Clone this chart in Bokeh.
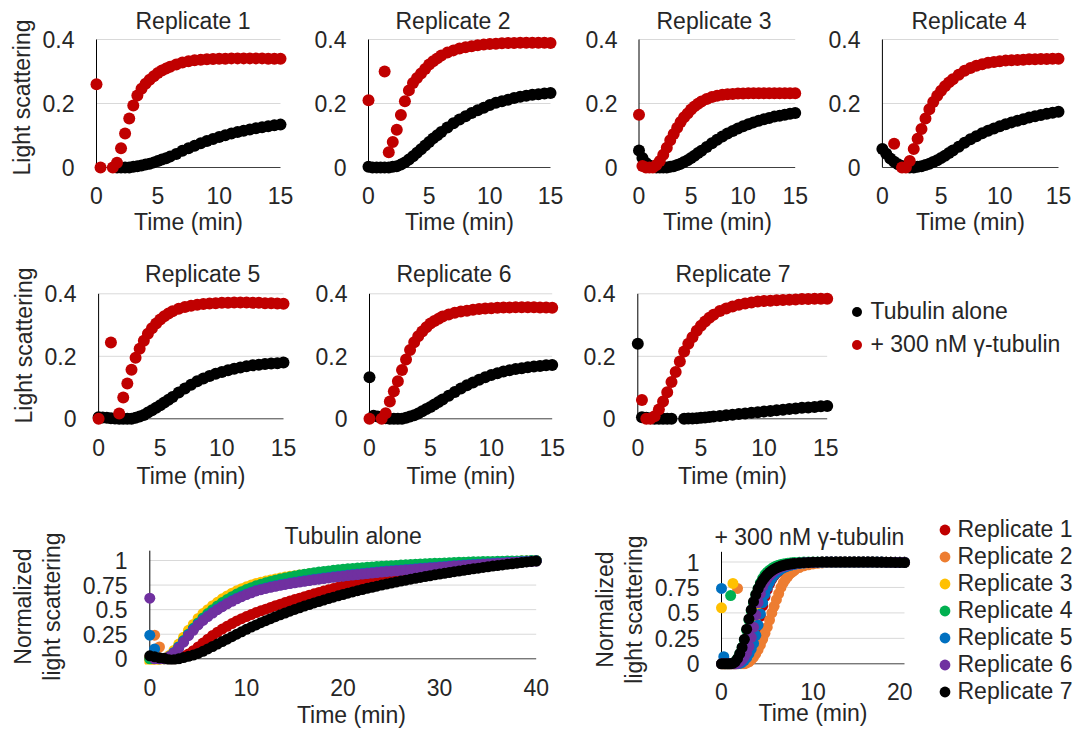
from bokeh.plotting import figure
from bokeh.models import Legend, LegendItem, FixedTicker, NumeralTickFormatter, Title
from bokeh.core.properties import value
from bokeh.layouts import row, column
from bokeh.embed import file_html
from bokeh.resources import INLINE

nan = float("nan")

# ---------------- data: raw light scattering (time in min) ----------------
T_RAW = [0, 0.33, 0.67, 1, 1.33, 1.67, 2, 2.33, 2.67, 3, 3.33, 3.67, 4, 4.33, 4.67, 5, 5.33, 5.67, 6,
         6.5, 7, 7.5, 8, 8.5, 9, 9.5, 10, 10.5, 11, 11.5, 12, 12.5, 13, 13.5, 14, 14.5, 15]

REP1_ALONE = [nan, nan, nan, nan, nan, 0.0, 0.0, 0.0, 0.0, 0.002, 0.004, 0.006, 0.009, 0.012, 0.016, 0.02, 0.025, 0.029, 0.034,
              0.042, 0.052, 0.06, 0.068, 0.076, 0.083, 0.089, 0.095, 0.101, 0.106, 0.111, 0.115, 0.119, 0.123, 0.126, 0.129, 0.132, 0.134]
REP1_GAMMA = [0.26, 0.0, nan, nan, 0.0, 0.015, 0.06, 0.106, 0.153, 0.194, 0.225, 0.246, 0.262, 0.274, 0.285, 0.295, 0.303, 0.309, 0.315,
              0.322, 0.328, 0.332, 0.335, 0.337, 0.338, 0.339, 0.34, 0.34, 0.341, 0.341, 0.341, 0.341, 0.341, 0.341, 0.34, 0.34, 0.34]
REP2_ALONE = [0.002, 0.0, 0.0, 0.0, 0.0, 0.0, 0.002, 0.004, 0.009, 0.016, 0.025, 0.035, 0.046, 0.057, 0.069, 0.08, 0.091, 0.101, 0.111,
              0.125, 0.138, 0.15, 0.16, 0.17, 0.179, 0.187, 0.195, 0.202, 0.207, 0.212, 0.217, 0.221, 0.224, 0.227, 0.229, 0.231, 0.233]
REP2_GAMMA = [0.21, nan, nan, nan, 0.30, 0.048, 0.08, 0.118, 0.164, 0.207, 0.241, 0.264, 0.28, 0.294, 0.308, 0.322, 0.332, 0.341, 0.35,
              0.359, 0.366, 0.372, 0.376, 0.379, 0.382, 0.384, 0.386, 0.387, 0.388, 0.389, 0.389, 0.39, 0.39, 0.39, 0.39, 0.39, 0.389]
REP3_ALONE = [0.053, 0.03, 0.014, 0.006, 0.002, 0.0, 0.0, 0.0, 0.0, 0.002, 0.004, 0.008, 0.012, 0.017, 0.023, 0.03, 0.037, 0.045, 0.052,
              0.064, 0.076, 0.087, 0.097, 0.106, 0.114, 0.122, 0.129, 0.135, 0.141, 0.146, 0.151, 0.155, 0.159, 0.162, 0.165, 0.168, 0.17]
REP3_GAMMA = [0.165, 0.005, 0.0, 0.0, 0.0, 0.008, 0.02, 0.04, 0.062, 0.085, 0.105, 0.124, 0.142, 0.157, 0.169, 0.181, 0.191, 0.199, 0.206,
              0.214, 0.22, 0.224, 0.227, 0.229, 0.23, 0.231, 0.231, 0.232, 0.232, 0.232, 0.232, 0.232, 0.232, 0.232, 0.232, 0.232, 0.232]
REP4_ALONE = [0.058, 0.043, 0.028, 0.018, 0.01, 0.005, 0.002, 0.0, 0.0, 0.002, 0.004, 0.008, 0.012, 0.017, 0.023, 0.03, 0.037, 0.045, 0.053,
              0.065, 0.077, 0.088, 0.098, 0.107, 0.115, 0.122, 0.129, 0.135, 0.141, 0.146, 0.151, 0.156, 0.16, 0.164, 0.168, 0.171, 0.174]
REP4_GAMMA = [nan, nan, nan, 0.074, nan, 0.0, 0.0, 0.02, 0.058, 0.09, 0.12, 0.153, 0.182, 0.205, 0.224, 0.24, 0.254, 0.266, 0.276,
              0.29, 0.302, 0.311, 0.318, 0.323, 0.327, 0.33, 0.332, 0.334, 0.335, 0.336, 0.337, 0.338, 0.338, 0.339, 0.339, 0.34, 0.34]
REP5_ALONE = [0.005, 0.004, 0.003, 0.002, 0.001, 0.0, 0.0, 0.0, 0.0, 0.003, 0.007, 0.012, 0.02, 0.027, 0.035, 0.043, 0.052, 0.061, 0.07,
              0.084, 0.097, 0.109, 0.12, 0.129, 0.137, 0.144, 0.15, 0.155, 0.16, 0.164, 0.168, 0.171, 0.173, 0.175, 0.177, 0.178, 0.18]
REP5_GAMMA = [0.0, nan, nan, 0.244, nan, 0.017, 0.068, 0.113, 0.157, 0.195, 0.224, 0.25, 0.272, 0.29, 0.305, 0.318, 0.328, 0.337, 0.344,
              0.352, 0.358, 0.362, 0.365, 0.367, 0.369, 0.37, 0.371, 0.371, 0.372, 0.372, 0.372, 0.371, 0.371, 0.37, 0.37, 0.369, 0.368]
REP6_ALONE = [0.133, 0.01, 0.007, 0.005, 0.002, 0.0, 0.0, 0.0, 0.0, 0.003, 0.007, 0.011, 0.017, 0.024, 0.031, 0.038, 0.046, 0.054, 0.062,
              0.074, 0.086, 0.097, 0.107, 0.116, 0.125, 0.133, 0.14, 0.146, 0.151, 0.155, 0.159, 0.162, 0.165, 0.167, 0.169, 0.171, 0.172]
REP6_GAMMA = [0.0, nan, nan, 0.0, 0.018, 0.055, 0.088, 0.12, 0.156, 0.19, 0.22, 0.245, 0.264, 0.279, 0.293, 0.305, 0.313, 0.32, 0.327,
              0.334, 0.339, 0.343, 0.346, 0.349, 0.351, 0.353, 0.354, 0.355, 0.356, 0.356, 0.357, 0.357, 0.357, 0.357, 0.356, 0.356, 0.355]
REP7_ALONE = [0.24, 0.005, 0.003, 0.002, 0.0, 0.0, 0.0, 0.0, 0.0, nan, nan, 0.0, 0.001, 0.001, 0.002, 0.003, 0.004, 0.006, 0.007,
              0.009, 0.011, 0.013, 0.015, 0.017, 0.019, 0.021, 0.023, 0.025, 0.027, 0.029, 0.031, 0.033, 0.035, 0.036, 0.038, 0.04, 0.041]
REP7_GAMMA = [nan, 0.06, 0.0, 0.0, 0.008, 0.03, 0.055, 0.085, 0.118, 0.15, 0.183, 0.215, 0.24, 0.261, 0.282, 0.298, 0.311, 0.323, 0.333,
              0.345, 0.353, 0.359, 0.365, 0.369, 0.372, 0.375, 0.377, 0.378, 0.379, 0.38, 0.381, 0.382, 0.383, 0.383, 0.384, 0.384, 0.384]

# ---------------- data: normalized, tubulin alone ----------------
T40 = [0, 0.5, 1, 1.5, 2, 2.5, 3, 3.5, 4, 4.5,
       5, 5.5, 6, 6.5, 7, 7.5, 8, 8.5, 9, 9.5,
       10, 10.5, 11, 11.5, 12, 12.5, 13, 13.5, 14, 14.5,
       15, 15.5, 16, 16.5, 17, 17.5, 18, 18.5, 19, 19.5,
       20, 20.5, 21, 21.5, 22, 22.5, 23, 23.5, 24, 24.5,
       25, 25.5, 26, 26.5, 27, 27.5, 28, 28.5, 29, 29.5,
       30, 30.5, 31, 31.5, 32, 32.5, 33, 33.5, 34, 34.5,
       35, 35.5, 36, 36.5, 37, 37.5, 38, 38.5, 39, 39.5,
       40]

ALONE_NORM_1 = [0.0, 0.0, 0.0, 0.0, 0.0, 0.0, 0.01, 0.025, 0.05, 0.083,
                0.12, 0.16, 0.2, 0.237, 0.27, 0.302, 0.33, 0.358, 0.385, 0.408,
                0.43, 0.45, 0.47, 0.488, 0.505, 0.523, 0.54, 0.556, 0.572, 0.587,
                0.602, 0.617, 0.632, 0.647, 0.661, 0.675, 0.689, 0.702, 0.715, 0.728,
                0.74, 0.752, 0.763, 0.774, 0.785, 0.795, 0.805, 0.815, 0.824, 0.833,
                0.842, 0.85, 0.858, 0.866, 0.873, 0.88, 0.887, 0.894, 0.9, 0.906,
                0.912, 0.918, 0.923, 0.929, 0.934, 0.939, 0.944, 0.949, 0.953, 0.958,
                0.962, 0.966, 0.97, 0.974, 0.978, 0.982, 0.985, 0.988, 0.992, 0.995,
                0.998]
ALONE_NORM_2 = [0.02, 0.24, 0.12, 0.0, 0.03, 0.07, 0.12, 0.18, 0.245, 0.3,
                0.355, 0.4, 0.44, 0.476, 0.51, 0.54, 0.569, 0.595, 0.62, 0.642,
                0.663, 0.682, 0.699, 0.713, 0.726, 0.737, 0.748, 0.758, 0.767, 0.775,
                0.783, 0.791, 0.799, 0.806, 0.813, 0.82, 0.827, 0.833, 0.839, 0.845,
                0.851, 0.857, 0.862, 0.867, 0.872, 0.877, 0.882, 0.887, 0.892, 0.897,
                0.901, 0.905, 0.909, 0.913, 0.917, 0.921, 0.925, 0.929, 0.933, 0.937,
                0.941, 0.945, 0.949, 0.952, 0.955, 0.958, 0.961, 0.964, 0.967, 0.97,
                0.973, 0.976, 0.979, 0.982, 0.985, 0.988, 0.991, 0.994, 0.996, 0.998,
                1.0]
ALONE_NORM_3 = [-0.03, -0.02, -0.01, 0.0, 0.03, 0.085, 0.15, 0.22, 0.29, 0.35,
                0.41, 0.46, 0.5, 0.54, 0.575, 0.61, 0.64, 0.667, 0.692, 0.713,
                0.732, 0.75, 0.766, 0.779, 0.791, 0.802, 0.812, 0.822, 0.831, 0.839,
                0.846, 0.852, 0.858, 0.864, 0.869, 0.874, 0.879, 0.884, 0.888, 0.892,
                0.896, 0.9, 0.904, 0.908, 0.911, 0.914, 0.917, 0.92, 0.923, 0.926,
                0.929, 0.932, 0.935, 0.938, 0.941, 0.944, 0.947, 0.95, 0.953, 0.956,
                0.959, 0.962, 0.964, 0.966, 0.968, 0.97, 0.972, 0.974, 0.976, 0.978,
                0.98, 0.982, 0.984, 0.986, 0.988, 0.99, 0.992, 0.994, 0.996, 0.998,
                1.0]
ALONE_NORM_4 = [0.0, 0.0, 0.0, 0.0, 0.02, 0.06, 0.12, 0.185, 0.25, 0.31,
                0.365, 0.415, 0.46, 0.5, 0.538, 0.572, 0.603, 0.632, 0.658, 0.682,
                0.704, 0.724, 0.742, 0.758, 0.773, 0.787, 0.8, 0.812, 0.823, 0.833,
                0.843, 0.852, 0.86, 0.868, 0.875, 0.882, 0.888, 0.894, 0.9, 0.905,
                0.91, 0.915, 0.919, 0.923, 0.927, 0.931, 0.935, 0.938, 0.941, 0.944,
                0.947, 0.95, 0.953, 0.956, 0.959, 0.962, 0.965, 0.967, 0.969, 0.971,
                0.973, 0.975, 0.977, 0.979, 0.981, 0.983, 0.985, 0.987, 0.988, 0.989,
                0.99, 0.991, 0.992, 0.993, 0.994, 0.995, 0.996, 0.997, 0.998, 0.999,
                1.0]
ALONE_NORM_5 = [0.24, 0.1, 0.0, 0.0, 0.02, 0.065, 0.12, 0.18, 0.245, 0.3,
                0.352, 0.397, 0.437, 0.473, 0.507, 0.537, 0.566, 0.592, 0.616, 0.638,
                0.658, 0.677, 0.694, 0.708, 0.721, 0.732, 0.743, 0.753, 0.762, 0.77,
                0.778, 0.786, 0.794, 0.801, 0.808, 0.815, 0.822, 0.828, 0.834, 0.84,
                0.846, 0.852, 0.857, 0.862, 0.867, 0.872, 0.877, 0.882, 0.887, 0.892,
                0.896, 0.9, 0.904, 0.908, 0.912, 0.916, 0.92, 0.924, 0.928, 0.932,
                0.936, 0.94, 0.944, 0.947, 0.95, 0.953, 0.956, 0.959, 0.962, 0.965,
                0.968, 0.971, 0.974, 0.977, 0.98, 0.983, 0.986, 0.989, 0.992, 0.995,
                0.998]
ALONE_NORM_6 = [0.617, 0.0, 0.0, 0.0, 0.02, 0.06, 0.11, 0.17, 0.235, 0.29,
                0.345, 0.39, 0.43, 0.465, 0.5, 0.53, 0.56, 0.585, 0.61, 0.632,
                0.653, 0.672, 0.69, 0.703, 0.716, 0.727, 0.738, 0.748, 0.757, 0.765,
                0.773, 0.781, 0.789, 0.796, 0.803, 0.81, 0.817, 0.823, 0.829, 0.835,
                0.841, 0.847, 0.852, 0.857, 0.862, 0.867, 0.872, 0.877, 0.882, 0.887,
                0.891, 0.895, 0.899, 0.903, 0.907, 0.911, 0.915, 0.919, 0.923, 0.927,
                0.931, 0.935, 0.939, 0.943, 0.946, 0.949, 0.952, 0.955, 0.958, 0.961,
                0.964, 0.967, 0.97, 0.973, 0.976, 0.979, 0.982, 0.985, 0.988, 0.991,
                0.994]
ALONE_NORM_7 = [0.03, 0.02, 0.01, 0.005, -0.01, -0.01, 0.0, 0.012, 0.025, 0.038,
                0.055, 0.076, 0.1, 0.125, 0.15, 0.175, 0.2, 0.225, 0.25, 0.275,
                0.3, 0.323, 0.345, 0.367, 0.388, 0.408, 0.428, 0.447, 0.466, 0.484,
                0.502, 0.519, 0.536, 0.552, 0.568, 0.583, 0.598, 0.613, 0.627, 0.641,
                0.654, 0.667, 0.68, 0.693, 0.705, 0.717, 0.728, 0.739, 0.75, 0.761,
                0.771, 0.781, 0.791, 0.8, 0.81, 0.819, 0.828, 0.837, 0.845, 0.854,
                0.862, 0.87, 0.878, 0.886, 0.893, 0.9, 0.908, 0.915, 0.922, 0.929,
                0.936, 0.943, 0.949, 0.955, 0.961, 0.967, 0.973, 0.979, 0.985, 0.99,
                0.995]

# ---------------- data: normalized, + 300 nM gamma-tubulin ----------------
T20 = [0, 0.25, 0.5, 0.75, 1, 1.25, 1.5, 1.75, 2, 2.25, 2.5, 2.75, 3, 3.25, 3.5, 3.75,
       4, 4.25, 4.5, 4.75, 5, 5.25, 5.5, 5.75, 6, 6.25, 6.5, 6.75, 7, 7.25, 7.5, 7.75, 8,
       8.5, 9, 9.5, 10, 10.5, 11, 11.5, 12, 12.5, 13, 13.5, 14, 14.5, 15, 15.5,
       16, 16.5, 17, 17.5, 18, 18.5, 19, 19.5, 20]

GAMMA_NORM_1 = [0.0, 0.0, 0.0, 0.0, 0.0, 0.0, 0.0, 0.0, 0.003, 0.012, 0.03, 0.055, 0.09, 0.135, 0.19, 0.27,
                0.36, 0.465, 0.57, 0.66, 0.73, 0.785, 0.83, 0.863, 0.89, 0.909, 0.925, 0.939, 0.95, 0.958, 0.966, 0.972, 0.977,
                0.985, 0.99, 0.993, 0.995, 0.997, 0.998, 0.999, 1.0, 1.0, 1.0, 1.0, 1.0, 1.0, 1.0, 1.0,
                0.999, 0.999, 0.998, 0.998, 0.997, 0.997, 0.996, 0.996, 0.996]
GAMMA_NORM_2 = [0.0, 0.0, 0.0, 0.0, 0.0, 0.0, 0.0, 0.74, 0.0, 0.0, 0.0, 0.008, 0.02, 0.04, 0.065, 0.1,
                0.14, 0.185, 0.24, 0.3, 0.36, 0.43, 0.5, 0.565, 0.63, 0.69, 0.75, 0.795, 0.83, 0.86, 0.885, 0.903, 0.92,
                0.945, 0.962, 0.973, 0.981, 0.987, 0.991, 0.994, 0.996, 0.998, 0.999, 1.0, 1.0, 1.0, 1.0, 1.0,
                1.0, 1.0, 0.999, 0.999, 0.998, 0.998, 0.998, 0.997, 0.997]
GAMMA_NORM_3 = [0.55, 0.0, 0.0, 0.0, 0.0, 0.79, 0.0, 0.003, 0.01, 0.025, 0.05, 0.09, 0.14, 0.21, 0.3, 0.4,
                0.5, 0.6, 0.69, 0.75, 0.8, 0.84, 0.87, 0.895, 0.915, 0.93, 0.943, 0.953, 0.962, 0.968, 0.974, 0.978, 0.982,
                0.988, 0.992, 0.995, 0.997, 0.998, 0.999, 1.0, 1.0, 1.0, 1.0, 1.0, 1.0, 1.0, 1.0, 1.0,
                1.0, 1.0, 0.999, 0.999, 0.998, 0.998, 0.997, 0.997, 0.997]
GAMMA_NORM_4 = [0.0, 0.0, 0.0, 0.0, 0.67, 0.005, 0.02, 0.05, 0.1, 0.16, 0.235, 0.33, 0.43, 0.52, 0.6, 0.68,
                0.74, 0.795, 0.84, 0.875, 0.9, 0.92, 0.935, 0.95, 0.96, 0.968, 0.975, 0.98, 0.984, 0.987, 0.99, 0.992, 0.994,
                0.997, 0.999, 1.0, 1.0, 1.0, 1.0, 1.0, 1.0, 1.0, 1.0, 1.0, 1.0, 1.0, 1.0, 1.0,
                1.0, 1.0, 0.999, 0.999, 0.998, 0.998, 0.998, 0.997, 0.997]
GAMMA_NORM_5 = [0.74, 0.07, 0.0, 0.0, 0.0, 0.0, 0.0, 0.0, 0.005, 0.015, 0.035, 0.06, 0.1, 0.145, 0.2, 0.28,
                0.38, 0.49, 0.6, 0.685, 0.75, 0.8, 0.84, 0.87, 0.895, 0.914, 0.93, 0.943, 0.953, 0.961, 0.968, 0.974, 0.978,
                0.985, 0.99, 0.993, 0.995, 0.997, 0.998, 0.999, 1.0, 1.0, 1.0, 1.0, 1.0, 1.0, 1.0, 1.0,
                1.0, 1.0, 0.999, 0.999, 0.998, 0.998, 0.997, 0.997, 0.997]
GAMMA_NORM_6 = [0.0, 0.0, 0.0, 0.0, 0.0, 0.0, 0.0, 0.005, 0.02, 0.04, 0.07, 0.11, 0.17, 0.26, 0.36, 0.48,
                0.6, 0.69, 0.76, 0.805, 0.84, 0.868, 0.89, 0.91, 0.925, 0.939, 0.95, 0.958, 0.965, 0.971, 0.976, 0.98, 0.984,
                0.989, 0.992, 0.995, 0.997, 0.998, 0.999, 1.0, 1.0, 1.0, 1.0, 1.0, 1.0, 1.0, 1.0, 1.0,
                1.0, 1.0, 0.999, 0.999, 0.998, 0.998, 0.997, 0.997, 0.997]
GAMMA_NORM_7 = [0.0, 0.0, 0.0, 0.0, 0.0, 0.005, 0.02, 0.05, 0.1, 0.16, 0.24, 0.34, 0.44, 0.53, 0.61, 0.68,
                0.735, 0.782, 0.82, 0.85, 0.875, 0.897, 0.915, 0.93, 0.942, 0.952, 0.96, 0.966, 0.972, 0.976, 0.98, 0.983, 0.986,
                0.99, 0.993, 0.995, 0.997, 0.998, 0.999, 1.0, 1.0, 1.0, 1.0, 1.0, 1.0, 1.0, 1.0, 1.0,
                0.999, 0.999, 0.998, 0.998, 0.997, 0.997, 0.996, 0.996, 0.995]

X_TICKS_15 = [0, 5, 10, 15]
Y_TICKS_04 = [0, 0.2, 0.4]
X_TICKS_40 = [0, 10, 20, 30, 40]
X_TICKS_20 = [0, 10, 20]
Y_TICKS_1 = [0, 0.25, 0.5, 0.75, 1]

REP_NAMES = ["Replicate 1", "Replicate 2", "Replicate 3", "Replicate 4",
             "Replicate 5", "Replicate 6", "Replicate 7"]
REP_COLORS = ["#C00000", "#ED7D31", "#FFC000", "#00B050", "#0070C0", "#7030A0", "#000000"]
ALONE_LABEL = "Tubulin alone"
GAMMA_LABEL = "+ 300 nM \u03b3-tubulin"
RAW_YLABEL = "Light scattering"
NORM_YLABEL = "Normalized\nlight scattering"
XLABEL = "Time (min)"
RED = "#C00000"
BLACK = "#000000"

for _name, _t, _series in [("raw", T_RAW, [REP1_ALONE, REP1_GAMMA, REP2_ALONE, REP2_GAMMA, REP3_ALONE, REP3_GAMMA,
                                            REP4_ALONE, REP4_GAMMA, REP5_ALONE, REP5_GAMMA, REP6_ALONE, REP6_GAMMA,
                                            REP7_ALONE, REP7_GAMMA]),
                           ("alone", T40, [ALONE_NORM_1, ALONE_NORM_2, ALONE_NORM_3, ALONE_NORM_4,
                                           ALONE_NORM_5, ALONE_NORM_6, ALONE_NORM_7]),
                           ("gamma", T20, [GAMMA_NORM_1, GAMMA_NORM_2, GAMMA_NORM_3, GAMMA_NORM_4,
                                           GAMMA_NORM_5, GAMMA_NORM_6, GAMMA_NORM_7])]:
    for _k, _s in enumerate(_series):
        if len(_s) != len(_t):
            raise ValueError("%s series %d has %d values, expected %d" % (_name, _k, len(_s), len(_t)))

# ---------------- styling ----------------
FONT = "Liberation Sans"
TXT = "#262626"
GRID = "#D9D9D9"
FS = "23px"
LEGEND_ITEM_H = 27   # measured height of one 23px legend row


def no_frame_align(p):
    try:
        p.frame_align = False
    except AttributeError:
        pass


def style_title(t):
    t.text_font = FONT
    t.text_font_size = FS
    t.text_font_style = "normal"
    t.text_color = TXT


def make_panel(box, px, xlim, ylim, pads, xticks, yticks, gridticks, title, title_left,
               title_standoff, xt_standoff, xl_standoff, yt_standoff, fmt="0.[00]",
               xlabel=XLABEL):
    fx0, fy0, fx1, fy1 = box
    dx0, dx1, dyb, dyt = px
    pl, pr, pt, pb = pads
    mbl = int(round(dx0 - pl - fx0))
    mbr = int(round(fx1 - dx1 - pr))
    mbt = int(round(dyt - pt - fy0))
    mbb = int(round(fy1 - dyb - pb))
    W = int(fx1 - fx0)
    H = int(fy1 - fy0)
    fw = W - mbl - mbr
    fh = H - mbt - mbb
    sx = (dx1 - dx0) / (xlim[1] - xlim[0])
    sy = (dyb - dyt) / (ylim[1] - ylim[0])
    x_start = xlim[0] - (dx0 - (fx0 + mbl)) / sx
    x_end = x_start + fw / sx
    y_end = ylim[1] + (dyt - (fy0 + mbt)) / sy
    y_start = y_end - fh / sy
    p = figure(width=W, height=H, x_range=(x_start, x_end), y_range=(y_start, y_end),
               min_border_left=mbl, min_border_right=mbr, min_border_top=mbt,
               min_border_bottom=mbb, output_backend="svg", toolbar_location=None,
               title=title)
    no_frame_align(p)
    p.outline_line_color = None
    p.background_fill_color = "white"
    p.border_fill_color = "white"
    p.xgrid.visible = False
    p.ygrid.visible = False
    p.title.align = "left"
    p.title.offset = title_left - (fx0 + mbl)
    p.title.standoff = title_standoff
    style_title(p.title)
    for ax in (p.xaxis[0], p.yaxis[0]):
        ax.axis_line_color = None
        ax.major_tick_line_color = None
        ax.minor_tick_line_color = None
        ax.major_tick_in = 0
        ax.major_tick_out = 0
        ax.major_label_text_font = FONT
        ax.major_label_text_font_size = FS
        ax.major_label_text_color = TXT
        ax.axis_label_text_font = FONT
        ax.axis_label_text_font_size = FS
        ax.axis_label_text_color = TXT
        ax.axis_label_text_font_style = "normal"
    p.xaxis.ticker = FixedTicker(ticks=xticks)
    p.yaxis.ticker = FixedTicker(ticks=yticks)
    p.yaxis.formatter = NumeralTickFormatter(format=fmt)
    if xlabel:
        p.xaxis.axis_label = xlabel
        p.xaxis.axis_label_standoff = xl_standoff
    p.xaxis.major_label_standoff = xt_standoff
    p.yaxis.major_label_standoff = yt_standoff
    n = len(gridticks)
    p.segment(x0=[xlim[0]] * n, x1=[xlim[1]] * n, y0=gridticks, y1=gridticks,
              line_color=GRID, line_width=1)
    p.segment(x0=[xlim[0]], x1=[xlim[1]], y0=[ylim[0]], y1=[ylim[0]],
              line_color="#404040", line_width=1)
    p.segment(x0=[xlim[0]], x1=[xlim[0]], y0=[ylim[0]], y1=[ylim[1]],
              line_color="#000000", line_width=1)
    geom = dict(mbl=mbl, mbr=mbr, mbt=mbt, mbb=mbb,
                frame_left=fx0 + mbl, frame_right=fx0 + W - mbr,
                frame_top=fy0 + mbt, frame_bottom=fy0 + H - mbb)
    return p, geom


def add_left_title(p, g, text, text_start_y, standoff):
    t = Title(text=text, align="left", offset=g["frame_bottom"] - text_start_y, standoff=standoff)
    style_title(t)
    p.add_layout(t, "left")


def legend_figure(box, borders, entries, glyph_size, glyph_wh, standoff, spacing, first_dot):
    """A bare figure carrying only a legend (inside its frame).
    entries = [(label, colour, xs, ys), ...]; the series sit outside the visible range."""
    fx0, fy0, fx1, fy1 = box
    mbl, mbr, mbt, mbb = borders
    W = int(fx1 - fx0)
    H = int(fy1 - fy0)
    p = figure(width=W, height=H, x_range=(-100, -99), y_range=(-100, -99), output_backend="svg",
               toolbar_location=None, x_axis_location=None, y_axis_location=None,
               min_border_left=mbl, min_border_right=mbr, min_border_top=mbt, min_border_bottom=mbb)
    no_frame_align(p)
    p.outline_line_color = None
    p.xgrid.visible = False
    p.ygrid.visible = False
    p.background_fill_color = "white"
    p.border_fill_color = "white"
    items = []
    for lab, col, xs, ys in entries:
        r = p.scatter(xs, ys, size=glyph_size, fill_color=col, line_color=None)
        items.append(LegendItem(label=value(lab), renderers=[r]))
    n = len(entries)
    leg_h = n * LEGEND_ITEM_H + (n - 1) * spacing
    dot_x, dot_y = first_dot
    frame_left = fx0 + mbl
    frame_bottom = fy1 - mbb
    loc = (dot_x - glyph_wh / 2 - frame_left, frame_bottom - (dot_y - LEGEND_ITEM_H / 2) - leg_h)
    leg = Legend(items=items, location=loc,
                 glyph_width=glyph_wh, glyph_height=glyph_wh, label_standoff=standoff,
                 spacing=spacing, padding=0, margin=0, label_text_font=FONT,
                 label_text_font_size=FS, label_text_color=TXT,
                 background_fill_alpha=0, border_line_color=None)
    p.add_layout(leg, "center")
    return p


# ---------------- layout (page pixel targets) ----------------
TOP_PADS = (7, 7, 4, 7)
BOT_PADS = (6, 6, 2, 6)

top_specs = [
    # box, data px (x=0, x=15, y=0, y=0.4), title, title left px, y-label start, series
    ((0, 0, 300, 250), (96, 280, 167, 39), REP_NAMES[0], 135, 175, REP1_ALONE, REP1_GAMMA),
    ((300, 0, 570, 250), (368, 550, 167, 39), REP_NAMES[1], 395, None, REP2_ALONE, REP2_GAMMA),
    ((570, 0, 815, 250), (638.5, 794.7, 167, 39), REP_NAMES[2], 656, None, REP3_ALONE, REP3_GAMMA),
    ((815, 0, 1076, 250), (881.9, 1058, 167, 39), REP_NAMES[3], 911, None, REP4_ALONE, REP4_GAMMA),
    ((0, 250, 300, 500), (98.1, 283, 418.3, 293.3), REP_NAMES[4], 144.6, 423, REP5_ALONE, REP5_GAMMA),
    ((300, 250, 570, 500), (369, 551.7, 418.3, 293.3), REP_NAMES[5], 396, None, REP6_ALONE, REP6_GAMMA),
    ((570, 250, 838, 500), (637.3, 826.7, 418.3, 293.3), REP_NAMES[6], 675, None, REP7_ALONE, REP7_GAMMA),
]

figs = []
geoms = []
for i, (box, px, ttl, tl, ylab_start, alone, gamma) in enumerate(top_specs):
    first_row = i < 4
    p, g = make_panel(box, px, (0, 15), (0, 0.4), TOP_PADS, X_TICKS_15, Y_TICKS_04, [0.2, 0.4],
                      ttl, tl, title_standoff=3 if first_row else 6,
                      xt_standoff=12 if first_row else 13, xl_standoff=2 if first_row else 4,
                      yt_standoff=15, fmt="0.[0]")
    if ylab_start is not None:
        add_left_title(p, g, RAW_YLABEL, ylab_start, 10)
    p.scatter(T_RAW, alone, size=12, fill_color=BLACK, line_color=None)
    p.scatter(T_RAW, gamma, size=12, fill_color=RED, line_color=None)
    figs.append(p)
    geoms.append(g)

# legend of the raw panels (right of Replicate 7); same top/bottom borders as its row
g7 = geoms[6]
leg_raw = legend_figure((838, 250, 1076, 500), (0, 0, g7["mbt"], g7["mbb"]),
                        [(ALONE_LABEL, BLACK, T_RAW, REP7_ALONE), (GAMMA_LABEL, RED, T_RAW, REP7_GAMMA)],
                        glyph_size=10, glyph_wh=25, standoff=2, spacing=6, first_dot=(856, 311.7))

# normalized panels
pa, ga = make_panel((0, 500, 560, 731), (149.3, 535.7, 658.3, 658.3 - 1.1 * 98.3), (0, 40), (0, 1.1),
                    BOT_PADS, X_TICKS_40, Y_TICKS_1, [0.25, 0.5, 0.75, 1.0], ALONE_LABEL, 284,
                    title_standoff=0, xt_standoff=14, xl_standoff=1, yt_standoff=16, xlabel=None)
pa.yaxis.axis_label = NORM_YLABEL
pa.yaxis.axis_label_standoff = 15
pa.yaxis.axis_label_text_line_height = 1.1
xl = Title(text=XLABEL, align="left", offset=296.4 - ga["frame_left"], standoff=2)
style_title(xl)
pa.add_layout(xl, "below")
alone_norm = [ALONE_NORM_1, ALONE_NORM_2, ALONE_NORM_3, ALONE_NORM_4, ALONE_NORM_5, ALONE_NORM_6, ALONE_NORM_7]
for ys, c in zip(alone_norm, REP_COLORS):
    pa.scatter(T40, ys, size=11, fill_color=c, line_color=None)

pg, gg = make_panel((560, 500, 912, 731), (721, 904, 663.3, 663.3 - 1.1 * 101.8), (0, 20), (0, 1.1),
                    BOT_PADS, X_TICKS_20, Y_TICKS_1, [0.25, 0.5, 0.75, 1.0], GAMMA_LABEL, 714,
                    title_standoff=0, xt_standoff=13, xl_standoff=-3, yt_standoff=16)
pg.yaxis.axis_label = NORM_YLABEL
pg.yaxis.axis_label_standoff = 5
pg.yaxis.axis_label_text_line_height = 1.1
gamma_norm = [GAMMA_NORM_1, GAMMA_NORM_2, GAMMA_NORM_3, GAMMA_NORM_4, GAMMA_NORM_5, GAMMA_NORM_6, GAMMA_NORM_7]
for ys, c in zip(gamma_norm, REP_COLORS):
    pg.scatter(T20, ys, size=11, fill_color=c, line_color=None)

# legend of the normalized panel (right of the gamma-tubulin panel), centred on the reference rows
leg_norm = legend_figure((912, 500, 1076, 731), (0, 0, 10, 0),
                         [(n, c, T20, ys) for n, c, ys in zip(REP_NAMES, REP_COLORS, gamma_norm)],
                         glyph_size=11, glyph_wh=27, standoff=0, spacing=0, first_dot=(944, 529))

layout = column(row(*figs[0:4]), row(*figs[4:7], leg_raw), row(pa, pg, leg_norm))
open("out.html", "w").write(file_html(layout, INLINE))
